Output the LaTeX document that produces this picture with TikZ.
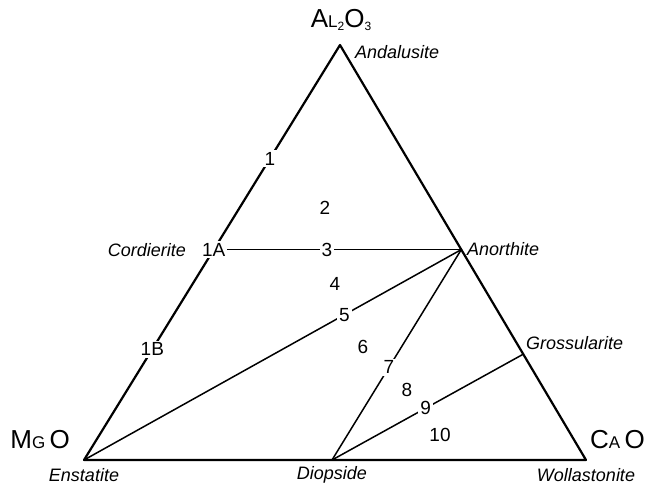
\documentclass[tikz,border=0pt]{standalone}
\usepackage{fontspec}
\setmainfont{Liberation Sans}
\usetikzlibrary{calc}
\newcommand\lowcap[1]{{\fontsize{17}{17}\selectfont #1}}
\newcommand\lowidx[1]{\raisebox{-3pt}{\fontsize{12}{12}\selectfont #1}}
\begin{document}
\begin{tikzpicture}[x=1pt, y=-1pt, line cap=round, line join=round,
    side/.style={line width=2.2pt},
    tie/.style={line width=1.5pt},
    num/.style={fill=white, inner sep=2pt, font=\fontsize{19}{19}\selectfont},
    field/.style={font=\fontsize{19}{19}\selectfont},
    mineral/.style={font=\fontsize{18}{18}\selectfont\itshape, inner sep=0pt},
    oxide/.style={font=\fontsize{26}{26}\selectfont, inner sep=0pt}]

\useasboundingbox (0,0) rectangle (646,485);

% Vertici
\coordinate (Al) at (340,45);
\coordinate (Mg) at (84,460);
\coordinate (Ca) at (586,460);

% Punti sui lati
\coordinate (Cord) at ($(Al)!0.493!(Mg)$);
\coordinate (Anor) at ($(Al)!0.493!(Ca)$);
\coordinate (Gros) at ($(Al)!0.745!(Ca)$);
\coordinate (Diop) at (332,460);

% Lati del triangolo
\draw[side] (Al) -- (Mg) -- (Ca) -- cycle;

% Linee interne
\draw[tie] (Cord) -- (Anor);
\draw[tie] (Mg) -- (Anor);
\draw[tie] (Diop) -- (Anor);
\draw[tie] (Diop) -- (Gros);

% Numeri sulle linee
\path (Al) -- (Mg)
  node[num, pos=0.274] (n1) {1}
  node[num, pos=0.493] (n1A) {1A}
  node[num, pos=0.733] (n1B) {1B};
\path (Cord) -- (Anor) node[num, pos=0.457] (n3) {3};
\path (Mg) -- (Anor) node[num, pos=0.69] (n5) {5};
\path (Diop) -- (Anor) node[num, pos=0.44] (n7) {7};
\path (Diop) -- (Gros) node[num, pos=0.49] (n9) {9};

% Numeri dei campi
\node[field] (n2) at (325,208) {2};
\node[field] (n4) at (335,284) {4};
\node[field] (n6) at (363,347) {6};
\node[field] (n8) at (407,390) {8};
\node[field] (n10) at (440,435) {10};

% Ossidi
\node[oxide] (alo) at (341,20) {A\lowcap{L}\lowidx{2}O\lowidx{3}};
\node[oxide, anchor=south east] (mgo) at (70,449) {M\lowcap{G}\,O};
\node[oxide, anchor=south west] (cao) at (590,449) {C\lowcap{A}\,O};

% Minerali
\node[mineral, anchor=west] (and) at (355,52) {Andalusite};
\node[mineral, anchor=east] (cor) at (186,250) {Cordierite};
\node[mineral, anchor=west] (ano) at (467,249) {Anorthite};
\node[mineral, anchor=south west] (gro) at (526,350) {Grossularite};
\node[mineral] (ens) at ($(Mg)+(0,15)$) {Enstatite};
\node[mineral] (dio) at ($(Diop)+(0,15)$) {Diopside};
\node[mineral] (wol) at ($(Ca)+(0,15)$) {Wollastonite};

\end{tikzpicture}
\end{document}
